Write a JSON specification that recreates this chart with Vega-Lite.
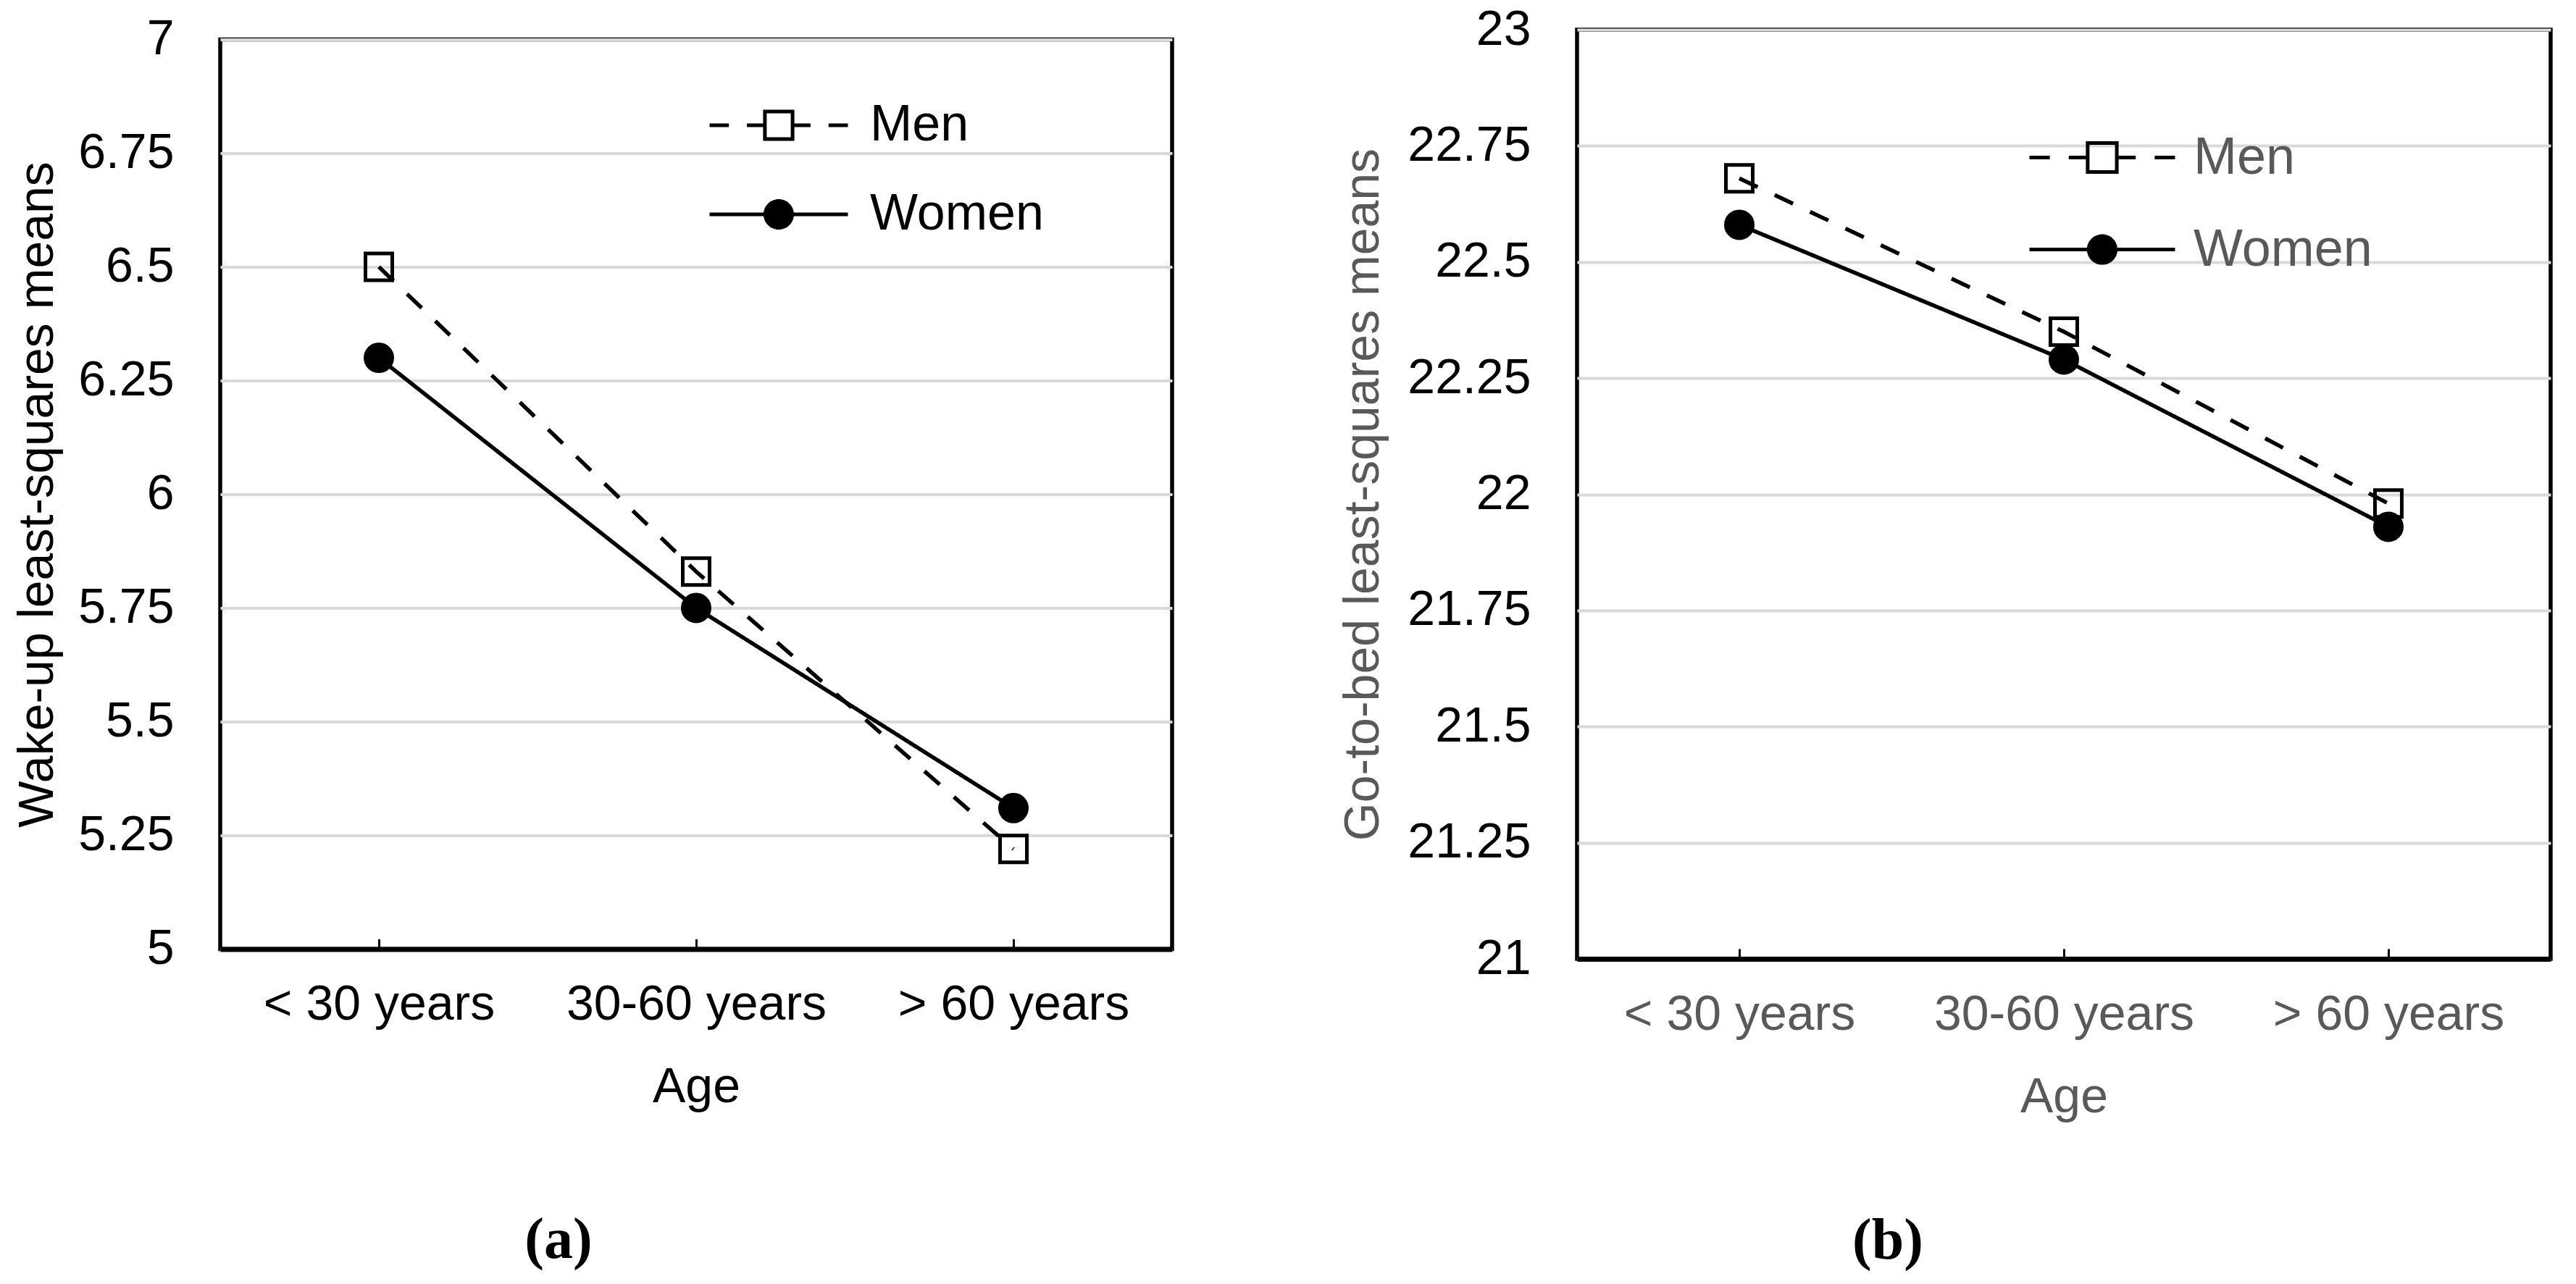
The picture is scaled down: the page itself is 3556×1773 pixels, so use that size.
{
  "$schema": "https://vega.github.io/schema/vega-lite/v6.json",
  "background": "white",
  "padding": {"left": 15, "top": 4, "right": 0, "bottom": 0},
  "datasets": {
    "wake": [
      {"age": "< 30 years", "sex": "Men", "value": 6.5},
      {"age": "30-60 years", "sex": "Men", "value": 5.83},
      {"age": "> 60 years", "sex": "Men", "value": 5.22},
      {"age": "< 30 years", "sex": "Women", "value": 6.3},
      {"age": "30-60 years", "sex": "Women", "value": 5.75},
      {"age": "> 60 years", "sex": "Women", "value": 5.31}
    ],
    "bed": [
      {"age": "< 30 years", "sex": "Men", "value": 22.68},
      {"age": "30-60 years", "sex": "Men", "value": 22.35},
      {"age": "> 60 years", "sex": "Men", "value": 21.98},
      {"age": "< 30 years", "sex": "Women", "value": 22.58},
      {"age": "30-60 years", "sex": "Women", "value": 22.29},
      {"age": "> 60 years", "sex": "Women", "value": 21.93}
    ]
  },
  "bounds": "flush",
  "center": true,
  "spacing": 559,
  "resolve": {
    "scale": {"opacity": "independent", "strokeDash": "independent"},
    "legend": {"opacity": "independent", "strokeDash": "independent"}
  },
  "hconcat": [
    {
      "width": 1314,
      "height": 1256,
      "data": {"name": "wake"},
      "title": {"text": "(a)", "orient": "bottom", "frame": "group", "anchor": "middle", "baseline": "top", "font": "Liberation Serif", "fontWeight": "bold", "fontSize": 80, "color": "black", "dx": -190, "offset": 138},
      "resolve": {"scale": {"opacity": "independent"}, "legend": {"opacity": "independent"}},
      "layer": [
        {
          "mark": {"type": "line", "stroke": "black", "strokeWidth": 5.5},
          "encoding": {
            "x": {"field": "age", "type": "nominal", "sort": ["< 30 years", "30-60 years", "> 60 years"], "scale": {"type": "point", "padding": 0.5}, "title": "Age",
              "axis": {"labelAngle": 0, "labelLimit": 1000, "grid": false, "ticks": true, "tickSize": -14, "tickWidth": 3, "tickColor": "black", "labelPadding": 57, "titlePadding": 46, "domain": true, "domainColor": "black", "domainWidth": 7, "labelColor": "black", "titleColor": "black"}},
            "y": {"field": "value", "type": "quantitative", "scale": {"domain": [5, 7], "nice": false, "zero": false}, "title": "Wake-up least-squares means",
              "axis": {"values": [5, 5.25, 5.5, 5.75, 6, 6.25, 6.5, 6.75, 7], "format": "~g", "ticks": false, "domain": false, "grid": true, "labelPadding": 64, "titleX": -218, "titleBaseline": "bottom", "labelColor": "black", "titleColor": "black"}},
            "strokeDash": {"field": "sex", "type": "nominal", "scale": {"domain": ["Men", "Women"], "range": [[28, 26], [1, 0]]}, "legend": null}
          }
        },
        {
          "transform": [{"filter": "datum.sex === 'Men'"}],
          "mark": {"type": "point", "shape": "square", "filled": false, "stroke": "black", "strokeWidth": 5, "size": 1369},
          "encoding": {
            "x": {"field": "age", "type": "nominal", "sort": ["< 30 years", "30-60 years", "> 60 years"]},
            "y": {"field": "value", "type": "quantitative"},
            "opacity": {"field": "sex", "type": "nominal", "scale": {"domain": ["Men"], "range": [1, 1]},
              "legend": {"orient": "none", "legendX": 673, "legendY": 57, "title": null, "values": ["Men"],
                "symbolType": "M-1,0H-0.72M-0.46,0H-0.2M0.2,0H0.46M0.72,0H1M-0.2,-0.2H0.2V0.2H-0.2Z",
                "symbolSize": 36481, "symbolStrokeWidth": 5, "symbolStrokeColor": "black", "symbolFillColor": "white", "symbolOpacity": 1,
                "clipHeight": 123, "padding": 0, "rowPadding": 0, "labelOffset": 28,
                "labelFontSize": 70, "labelColor": "black", "labelFont": "Liberation Sans", "labelLimit": 1000}}
          }
        },
        {
          "transform": [{"filter": "datum.sex === 'Women'"}],
          "mark": {"type": "point", "shape": "circle", "filled": false, "fill": "black", "stroke": "black", "strokeWidth": 5, "size": 1369},
          "encoding": {
            "x": {"field": "age", "type": "nominal", "sort": ["< 30 years", "30-60 years", "> 60 years"]},
            "y": {"field": "value", "type": "quantitative"},
            "opacity": {"field": "sex", "type": "nominal", "scale": {"domain": ["Women"], "range": [1, 1]},
              "legend": {"orient": "none", "legendX": 673, "legendY": 180, "title": null, "values": ["Women"],
                "symbolType": "M-1,-0.026H1V0.026H-1ZM-0.22,0A0.22,0.22 0 1 1 0.22,0A0.22,0.22 0 1 1 -0.22,0Z",
                "symbolSize": 36481, "symbolStrokeWidth": 5, "symbolStrokeColor": "black", "symbolFillColor": "black", "symbolOpacity": 1,
                "clipHeight": 123, "padding": 0, "rowPadding": 0, "labelOffset": 28,
                "labelFontSize": 70, "labelColor": "black", "labelFont": "Liberation Sans", "labelLimit": 1000}}
          }
        }
      ]
    },
    {
      "width": 1344,
      "height": 1283,
      "data": {"name": "bed"},
      "title": {"text": "(b)", "orient": "bottom", "frame": "group", "anchor": "middle", "baseline": "top", "font": "Liberation Serif", "fontWeight": "bold", "fontSize": 80, "color": "black", "dx": -243, "offset": 126},
      "resolve": {"scale": {"opacity": "independent"}, "legend": {"opacity": "independent"}},
      "layer": [
        {
          "mark": {"type": "line", "stroke": "black", "strokeWidth": 5.5},
          "encoding": {
            "x": {"field": "age", "type": "nominal", "sort": ["< 30 years", "30-60 years", "> 60 years"], "scale": {"type": "point", "padding": 0.5}, "title": "Age",
              "axis": {"labelAngle": 0, "labelLimit": 1000, "grid": false, "ticks": true, "tickSize": -14, "tickWidth": 3, "tickColor": "black", "labelPadding": 57, "titlePadding": 46, "domain": true, "domainColor": "black", "domainWidth": 7, "labelColor": "#595959", "titleColor": "#595959"}},
            "y": {"field": "value", "type": "quantitative", "scale": {"domain": [21, 23], "nice": false, "zero": false}, "title": "Go-to-bed least-squares means",
              "axis": {"values": [21, 21.25, 21.5, 21.75, 22, 22.25, 22.5, 22.75, 23], "format": "~g", "ticks": false, "domain": false, "grid": true, "labelPadding": 64, "titleX": -261, "titleBaseline": "bottom", "labelColor": "black", "titleColor": "#595959"}},
            "strokeDash": {"field": "sex", "type": "nominal", "scale": {"domain": ["Men", "Women"], "range": [[28, 26], [1, 0]]}, "legend": null}
          }
        },
        {
          "transform": [{"filter": "datum.sex === 'Men'"}],
          "mark": {"type": "point", "shape": "square", "filled": false, "stroke": "black", "strokeWidth": 5, "size": 1369},
          "encoding": {
            "x": {"field": "age", "type": "nominal", "sort": ["< 30 years", "30-60 years", "> 60 years"]},
            "y": {"field": "value", "type": "quantitative"},
            "opacity": {"field": "sex", "type": "nominal", "scale": {"domain": ["Men"], "range": [1, 1]},
              "legend": {"orient": "none", "legendX": 622, "legendY": 113, "title": null, "values": ["Men"],
                "symbolType": "M-1,0H-0.72M-0.46,0H-0.2M0.2,0H0.46M0.72,0H1M-0.2,-0.2H0.2V0.2H-0.2Z",
                "symbolSize": 40401, "symbolStrokeWidth": 5, "symbolStrokeColor": "black", "symbolFillColor": "white", "symbolOpacity": 1,
                "clipHeight": 127, "padding": 0, "rowPadding": 0, "labelOffset": 23,
                "labelFontSize": 72, "labelColor": "#595959", "labelFont": "Liberation Sans", "labelLimit": 1000}}
          }
        },
        {
          "transform": [{"filter": "datum.sex === 'Women'"}],
          "mark": {"type": "point", "shape": "circle", "filled": false, "fill": "black", "stroke": "black", "strokeWidth": 5, "size": 1369},
          "encoding": {
            "x": {"field": "age", "type": "nominal", "sort": ["< 30 years", "30-60 years", "> 60 years"]},
            "y": {"field": "value", "type": "quantitative"},
            "opacity": {"field": "sex", "type": "nominal", "scale": {"domain": ["Women"], "range": [1, 1]},
              "legend": {"orient": "none", "legendX": 622, "legendY": 240, "title": null, "values": ["Women"],
                "symbolType": "M-1,-0.025H1V0.025H-1ZM-0.21,0A0.21,0.21 0 1 1 0.21,0A0.21,0.21 0 1 1 -0.21,0Z",
                "symbolSize": 40401, "symbolStrokeWidth": 5, "symbolStrokeColor": "black", "symbolFillColor": "black", "symbolOpacity": 1,
                "clipHeight": 127, "padding": 0, "rowPadding": 0, "labelOffset": 23,
                "labelFontSize": 72, "labelColor": "#595959", "labelFont": "Liberation Sans", "labelLimit": 1000}}
          }
        }
      ]
    }
  ],
  "config": {
    "font": "Liberation Sans",
    "view": {"stroke": "black", "strokeWidth": 5.5},
    "axis": {
      "labelFont": "Liberation Sans",
      "titleFont": "Liberation Sans",
      "labelFontSize": 68,
      "titleFontSize": 68,
      "titleFontWeight": "normal",
      "gridColor": "#d9d9d9",
      "gridWidth": 4
    }
  }
}
